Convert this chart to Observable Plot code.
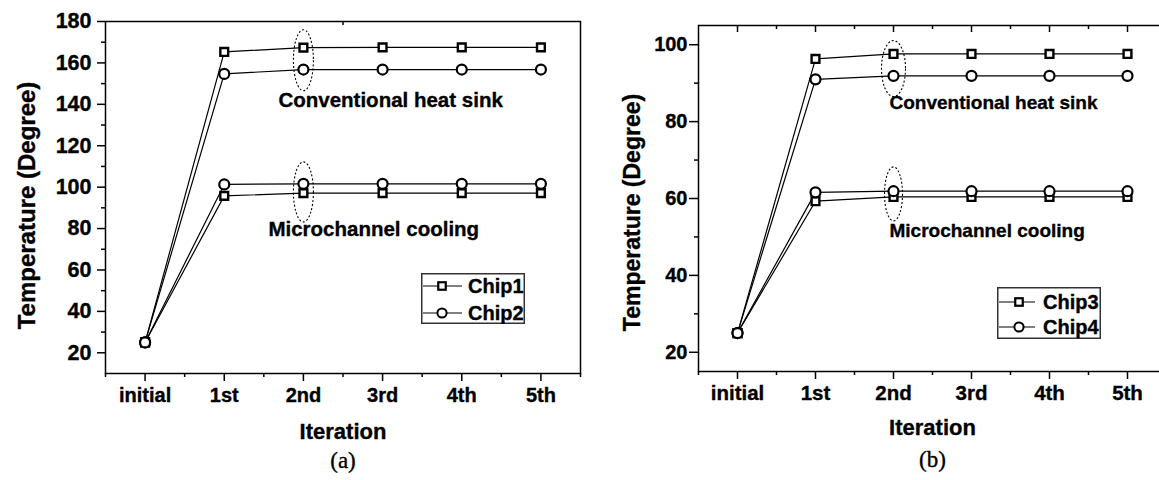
<!DOCTYPE html>
<html><head><meta charset="utf-8">
<script src="https://cdn.jsdelivr.net/npm/d3@7"></script>
<script src="https://cdn.jsdelivr.net/npm/@observablehq/plot@0.6"></script>
<style>
html,body{margin:0;padding:0;background:#fff;overflow:hidden;}
#wrap{position:relative;width:1159px;height:480px;overflow:hidden;background:#fff;}
.panel{position:absolute;top:0;}
.legend{position:absolute;}
.bold text{stroke:#000;stroke-width:0.35px;}
.bold text.cap{stroke:none;}
</style></head><body><div id="wrap"></div>
<script>
// ---- data ----
const iterations = ["initial", "1st", "2nd", "3rd", "4th", "5th"];
// panel (a)
const chip1Conv  = [25, 165.3, 167.4, 167.5, 167.5, 167.5];
const chip2Conv  = [25, 154.7, 156.8, 156.8, 156.8, 156.8];
const chip1Micro = [25, 95.8, 97.1, 97.1, 97.1, 97.1];
const chip2Micro = [25, 101.3, 101.6, 101.6, 101.6, 101.6];
// panel (b)
const chip3Conv  = [25, 96.3, 97.6, 97.6, 97.6, 97.6];
const chip4Conv  = [25, 91.0, 91.9, 91.9, 91.9, 91.9];
const chip3Micro = [25, 59.3, 60.4, 60.4, 60.4, 60.4];
const chip4Micro = [25, 61.6, 61.9, 61.9, 61.9, 61.9];
// axis ticks
const yTicksA = [20, 40, 60, 80, 100, 120, 140, 160, 180];
const yMinorA = [30, 50, 70, 90, 110, 130, 150, 170];
const yTicksB = [20, 40, 60, 80, 100];
const yMinorB = [30, 50, 70, 90];
const labelsA = ["Conventional heat sink", "Microchannel cooling"];
const labelYA = [141.7, 79.7];
const labelYB = [84.8, 51.7];
const ellipseYA = [161.3, 97.7];
const ellipseYB = [93.8, 61.2];

const majorX = iterations.map((d, i) => i);
const minorX = [-0.5, 0.5, 1.5, 2.5, 3.5, 4.5, 5.5];

function rows(arr, chip, marker) {
  return arr.map((y, i) => ({x: i, y, chip, marker, key: chip}));
}

function ellipseSymbol(rx, ry) {
  const k = 0.5523;
  return {draw(ctx) {
    ctx.moveTo(rx, 0);
    ctx.bezierCurveTo(rx, ry * k, rx * k, ry, 0, ry);
    ctx.bezierCurveTo(-rx * k, ry, -rx, ry * k, -rx, 0);
    ctx.bezierCurveTo(-rx, -ry * k, -rx * k, -ry, 0, -ry);
    ctx.bezierCurveTo(rx * k, -ry, rx, -ry * k, rx, 0);
    ctx.closePath();
  }};
}

function panel(o) {
  const plotH = o.height - o.marginTop - o.marginBottom;
  const data = o.series;
  return Plot.plot({
    width: o.width, height: o.height,
    marginLeft: o.marginLeft, marginRight: o.marginRight,
    marginTop: o.marginTop, marginBottom: o.marginBottom,
    x: {type: "linear", domain: [-0.5, 5.5]},
    y: {type: "linear", domain: o.yDomain},
    className: "bold",
    style: {fontFamily: "'Liberation Sans', Arial, sans-serif", background: "transparent", color: "#000", overflow: "visible"},
    marks: [
      Plot.line(data, {x: "x", y: "y", z: "key", stroke: "#000", strokeWidth: 1.2}),
      Plot.dot(o.ellipseY.map((y, i) => ({x: 2, y, i})), {x: "x", y: "y", symbol: d => d.i === 0 ? o.ell0 : o.ell1,
        fill: "none", stroke: "#000", strokeWidth: 1.1, strokeDasharray: "2,2"}),
      Plot.dot(data.filter(d => d.marker === "square"), {x: "x", y: "y", symbol: "square", r: 4.4, fill: "#fff", stroke: "#000", strokeWidth: 2.4}),
      Plot.dot(data.filter(d => d.marker === "circle"), {x: "x", y: "y", r: 5, fill: "#fff", stroke: "#000", strokeWidth: 2.2}),
      Plot.text(labelsA.map((t, i) => ({t, y: o.labelY[i]})), {x: () => 2, y: "y", text: "t", textAnchor: "start",
        fontSize: o.annFont, fontWeight: "bold"}),
      Plot.frame({stroke: "#000", strokeWidth: 1.5}),
      Plot.axisX(majorX, {tickSize: 8, tickPadding: 6, tickFormat: i => iterations[i], fontSize: o.xFont, fontWeight: "bold", label: null, strokeWidth: 1.5}),
      Plot.axisX(minorX, {tickSize: 4, tickFormat: () => "", label: null, strokeWidth: 1.5}),
      Plot.axisY(o.yTicks, {tickSize: o.yTickSize, tickPadding: o.yPad, fontSize: o.yFont, fontWeight: "bold", label: null, strokeWidth: 1.5}),
      Plot.axisY(o.yMinor, {tickSize: 4, tickFormat: () => "", label: null, strokeWidth: 1.5}),
      Plot.ruleX(o.topMajor, {x: d => d, insetBottom: plotH - 7, stroke: "#000", strokeWidth: 1.5}),
      Plot.ruleX(o.topMinor, {x: d => d, insetBottom: plotH - 4, stroke: "#000", strokeWidth: 1.5}),
      Plot.text(["Temperature (Degree)"], {text: d => d, frameAnchor: "left", textAnchor: "middle", rotate: -90, dx: o.ylabDx, dy: o.ylabDy, fontSize: o.ylabFont, fontWeight: "bold"}),
      Plot.text(["Iteration"], {text: d => d, frameAnchor: "bottom", dy: o.xlabDy, fontSize: 22, fontWeight: "bold"}),
      Plot.text([o.caption], {text: d => d, frameAnchor: "bottom", dy: o.capDy, fontSize: 23, className: "cap", fontFamily: "'Liberation Serif', 'Times New Roman', serif"})
    ]
  });
}

const seriesA = [
  ...rows(chip1Conv, "Chip1 conv", "square"), ...rows(chip2Conv, "Chip2 conv", "circle"),
  ...rows(chip1Micro, "Chip1 micro", "square"), ...rows(chip2Micro, "Chip2 micro", "circle")
];
const seriesB = [
  ...rows(chip3Conv, "Chip3 conv", "square"), ...rows(chip4Conv, "Chip4 conv", "circle"),
  ...rows(chip3Micro, "Chip3 micro", "square"), ...rows(chip4Micro, "Chip4 micro", "circle")
];

const pa = panel({
  series: seriesA, yDomain: [10, 180], yTicks: yTicksA, yMinor: yMinorA,
  width: 582, height: 480, marginLeft: 105, marginRight: 2, marginTop: 21, marginBottom: 107,
  labelY: labelYA, ellipseY: ellipseYA, ell0: ellipseSymbol(10, 30.5), ell1: ellipseSymbol(10, 30),
  annFont: 20.5, xFont: 20, yFont: 21.5, yTickSize: 8, yPad: 6,
  topMajor: [], topMinor: [2.5],
  ylabDx: -78, ylabDy: 8, ylabFont: 24, xlabDy: 65, capDy: 94, caption: "(a)"
});
const pb = panel({
  series: seriesB, yDomain: [15, 105], yTicks: yTicksB, yMinor: yMinorB,
  width: 590, height: 480, marginLeft: 116, marginRight: 6, marginTop: 25, marginBottom: 109,
  labelY: labelYB, ellipseY: ellipseYB, ell0: ellipseSymbol(12, 28), ell1: ellipseSymbol(9, 27),
  annFont: 19, xFont: 20.5, yFont: 20, yTickSize: 9, yPad: 2,
  topMajor: majorX, topMinor: [0.5, 1.5, 2.5, 3.5, 4.5],
  ylabDx: -66, ylabDy: 14, ylabFont: 23, xlabDy: 63, capDy: 95, caption: "(b)"
});

const wrap = document.getElementById("wrap");
pa.classList.add("panel"); pa.style.left = "0px";
pb.classList.add("panel"); pb.style.left = "582px";
wrap.appendChild(pa); wrap.appendChild(pb);

// annotation label offsets relative to the 2nd-iteration anchor
function shiftLabels(svg, dxs) {
  const texts = [...svg.querySelectorAll("text")].filter(t => labelsA.includes(t.textContent));
  texts.forEach((t, i) => t.setAttribute("dx", dxs[i]));
}
shiftLabels(pa, [-25, -35]);
shiftLabels(pb, [-4, -4]);

// legends
function legend(names, left, top, w, h, rowsY, lineX1, lineX2, markX, textX) {
  const div = document.createElement("div");
  div.className = "legend";
  div.style.left = left + "px"; div.style.top = top + "px";
  const sq = 7.5, r = 4.6;
  div.innerHTML = `<svg width="${w}" height="${h}" style="display:block;font-family:'Liberation Sans',Arial,sans-serif;font-weight:bold;font-size:20px">
    <rect x="0.75" y="0.75" width="${w - 1.5}" height="${h - 1.5}" fill="#fff" stroke="#333" stroke-width="1.5"/>
    <line x1="${lineX1}" x2="${lineX2}" y1="${rowsY[0]}" y2="${rowsY[0]}" stroke="#000" stroke-width="1.2"/>
    <rect x="${markX - sq / 2}" y="${rowsY[0] - sq / 2}" width="${sq}" height="${sq}" fill="#fff" stroke="#000" stroke-width="2.2"/>
    <text x="${textX}" y="${rowsY[0]}" dy="0.36em" stroke="#000" stroke-width="0.35">${names[0]}</text>
    <line x1="${lineX1}" x2="${lineX2}" y1="${rowsY[1]}" y2="${rowsY[1]}" stroke="#000" stroke-width="1.2"/>
    <circle cx="${markX}" cy="${rowsY[1]}" r="${r}" fill="#fff" stroke="#000" stroke-width="2"/>
    <text x="${textX}" y="${rowsY[1]}" dy="0.36em" stroke="#000" stroke-width="0.35">${names[1]}</text>
  </svg>`;
  wrap.appendChild(div);
}
legend(["Chip1", "Chip2"], 421, 273, 104, 51, [13, 40], 2, 41, 21, 47);
legend(["Chip3", "Chip4"], 997, 287, 104, 52, [15, 40], 2, 38, 22, 46);
</script></body></html>
